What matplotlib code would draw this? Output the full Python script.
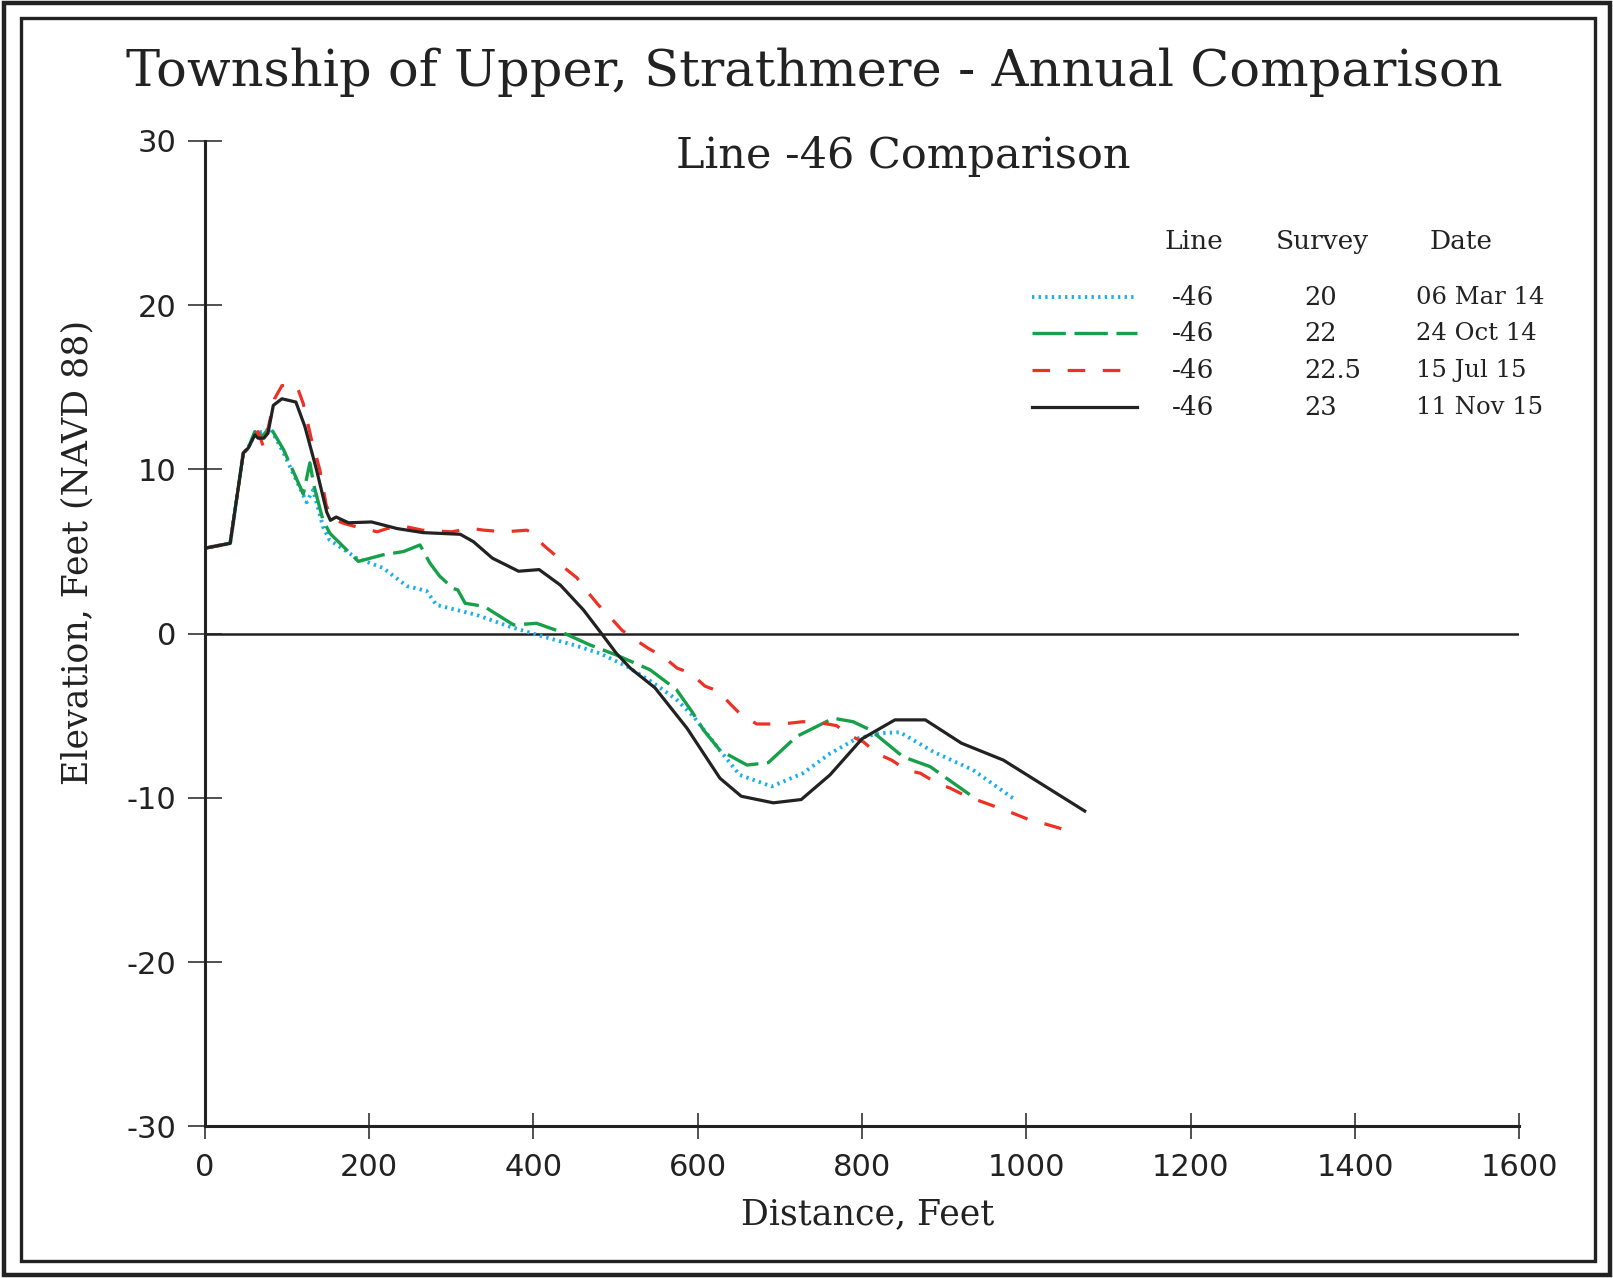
import matplotlib
matplotlib.use("Agg")
import matplotlib.pyplot as plt
from matplotlib.patches import Rectangle

plt.rcParams["axes.unicode_minus"] = False

# survey profiles (distance ft, elevation ft NAVD88)
dist_20 = [0, 31, 47, 53, 61, 72, 80, 96, 124, 132, 144, 152, 185, 217, 246, 270, 282,
           298, 331, 371, 412, 449, 481, 514, 546, 574, 595, 627, 651, 690, 728, 761,
           793, 822, 846, 887, 935, 986]
elev_20 = [5.2, 5.5, 11.0, 11.3, 12.2, 12.3, 12.5, 11.0, 8.0, 8.75, 6.5, 5.7, 4.6, 4.0,
           2.9, 2.6, 1.75, 1.55, 1.14, 0.43, -0.18, -0.69, -1.2, -2.0, -3.0, -4.0, -5.05,
           -7.1, -8.6, -9.3, -8.5, -7.3, -6.4, -6.06, -6.0, -7.2, -8.3, -10.1]

dist_22 = [0, 31, 47, 53, 61, 70, 79.5, 96, 120, 128, 133, 144, 152.5, 187, 217, 242,
           262, 274, 286, 302, 308, 317, 340, 376, 404, 436, 469, 501, 542, 574, 593,
           607, 627, 660, 686, 720, 765, 789, 810, 850, 883, 931]
elev_22 = [5.2, 5.5, 11.0, 11.3, 12.3, 12.0, 12.6, 11.2, 8.5, 10.4, 9.0, 6.9, 6.1, 4.4,
           4.8, 5.0, 5.4, 4.3, 3.5, 2.76, 2.66, 1.85, 1.66, 0.53, 0.63, 0.06, -0.69, -1.3,
           -2.2, -3.4, -4.75, -5.86, -7.1, -8.0, -7.85, -6.27, -5.15, -5.36, -5.86, -7.5,
           -8.1, -9.8]

dist_225 = [0, 31, 47, 53, 60, 65, 72, 85, 94, 112, 120, 130, 140, 148, 155, 170, 185,
            210, 222, 246, 265, 300, 325, 340, 365, 392, 400, 412, 426, 438, 453, 465,
            479, 491, 508, 522, 540, 558, 575, 591, 609, 625, 640, 654, 672, 692, 712,
            728, 752, 769, 785, 802, 818, 836, 854, 871, 891, 907, 927, 944, 966, 982,
            1002, 1017, 1041, 1062]
elev_225 = [5.2, 5.5, 11.0, 11.3, 12.0, 12.3, 11.3, 14.3, 15.1, 15.1, 14.0, 11.8, 10.0,
            7.8, 7.0, 6.7, 6.5, 6.2, 6.4, 6.5, 6.3, 6.2, 6.4, 6.3, 6.2, 6.3, 6.1, 5.4,
            4.8, 4.0, 3.4, 2.6, 1.75, 1.14, 0.2, -0.3, -0.9, -1.4, -2.1, -2.4, -3.2, -3.5,
            -4.3, -5.0, -5.5, -5.5, -5.45, -5.36, -5.45, -5.6, -6.2, -6.6, -7.3, -7.7,
            -8.3, -8.5, -9.1, -9.4, -9.9, -10.2, -10.6, -10.9, -11.3, -11.5, -11.85, -12.3]

dist_23 = [0, 31, 47, 53, 61, 65, 72, 77, 83.5, 94, 111, 122, 136, 148.5, 153, 160, 175,
           203, 234, 266, 311, 327, 350, 382, 407, 433, 461, 483, 501, 518, 548, 587,
           627, 653, 692, 726, 761, 800, 840, 877, 921, 972, 1071]
elev_23 = [5.2, 5.5, 11.0, 11.3, 12.1, 11.9, 11.9, 12.2, 13.9, 14.3, 14.1, 12.6, 10.0,
           7.4, 6.9, 7.1, 6.75, 6.8, 6.4, 6.15, 6.05, 5.6, 4.6, 3.8, 3.9, 2.95, 1.44, 0.0,
           -1.2, -2.1, -3.3, -5.76, -8.8, -9.9, -10.3, -10.1, -8.6, -6.4, -5.25, -5.25,
           -6.67, -7.7, -10.8]

lines = ["-46", "-46", "-46", "-46"]
surveys = ["20", "22", "22.5", "23"]
dates = ["06 Mar 14", "24 Oct 14", "15 Jul 15", "11 Nov 15"]

SERIF = "DejaVu Serif"
SANS = "DejaVu Sans"
INK = "#222222"

fig = plt.figure(figsize=(16.13, 12.78), dpi=100)
W, H = 1613, 1278

# double frame around the page
fig.patches.append(Rectangle((4 / W, 3 / H), 1606 / W, 1272 / H, transform=fig.transFigure,
                             fill=False, lw=3.2, ec=INK))
fig.patches.append(Rectangle((21 / W, 17 / H), 1574 / W, 1243 / H, transform=fig.transFigure,
                             fill=False, lw=2.4, ec=INK))

ax = fig.add_axes([204.7 / W, 151.6 / H, 1314.7 / W, 985.5 / H])
ax.set_xlim(0, 1600)
ax.set_ylim(-30, 30)
for s in ["top", "right"]:
    ax.spines[s].set_visible(False)
for s in ["left", "bottom"]:
    ax.spines[s].set_linewidth(2.2)
    ax.spines[s].set_color(INK)
ax.set_xticks(range(0, 1601, 200))
ax.set_yticks(range(-30, 31, 10))
ax.tick_params(direction="inout", width=1.1, color=INK, labelsize=22, labelcolor=INK)
ax.tick_params(axis="x", length=19, pad=10)
ax.tick_params(axis="y", length=25, pad=8)
for lab in ax.get_xticklabels() + ax.get_yticklabels():
    lab.set_family(SANS)
ax.axhline(0, color=INK, lw=1.8, zorder=1)

styles = [
    dict(color="#18aef0", lw=2.8, ls=(0, (0.6, 1.1))),
    dict(color="#16a04a", lw=2.4, ls=(0, (10, 2.6))),
    dict(color="#ee3124", lw=2.3, ls=(0, (5.5, 5.5))),
    dict(color=INK, lw=2.3, ls="-"),
]
series = [(dist_20, elev_20), (dist_22, elev_22), (dist_225, elev_225), (dist_23, elev_23)]
for (d, e), st in zip(series, styles):
    ax.plot(d, e, **st)

# legend table
for xc, head in zip([0.7527, 0.8498, 0.9554], ["Line", "Survey", "Date"]):
    ax.text(xc, 0.8977, head, transform=ax.transAxes, ha="center", va="center",
            family=SERIF, fontsize=19, color=INK)
row_y = [0.8413, 0.8048, 0.7672, 0.7296]
for i, st in enumerate(styles):
    y = row_y[i]
    ax.plot([0.629, 0.709], [y, y], transform=ax.transAxes, **st)
    ax.text(0.752, y, lines[i], transform=ax.transAxes, ha="center", va="center",
            family=SERIF, fontsize=19, color=INK)
    ax.text(0.8365, y, surveys[i], transform=ax.transAxes, ha="left", va="center",
            family=SERIF, fontsize=18.5, color=INK)
    ax.text(0.9211, y, dates[i], transform=ax.transAxes, ha="left", va="center",
            family=SERIF, fontsize=17.5, color=INK)

fig.text(0.505, 0.9437, "Township of Upper, Strathmere - Annual Comparison",
         ha="center", va="center", family=SERIF, fontsize=36.8, color=INK)
fig.text(0.560, 0.8776, "Line -46 Comparison", ha="center", va="center",
         family=SERIF, fontsize=31, color=INK)
fig.text(0.5376, 0.0502, "Distance, Feet", ha="center", va="center",
         family=SERIF, fontsize=25, color=INK)
fig.text(0.0478, 0.5678, "Elevation, Feet (NAVD 88)", ha="center", va="center",
         rotation=90, family=SERIF, fontsize=25, color=INK)

fig.savefig("out.png", dpi=100)
